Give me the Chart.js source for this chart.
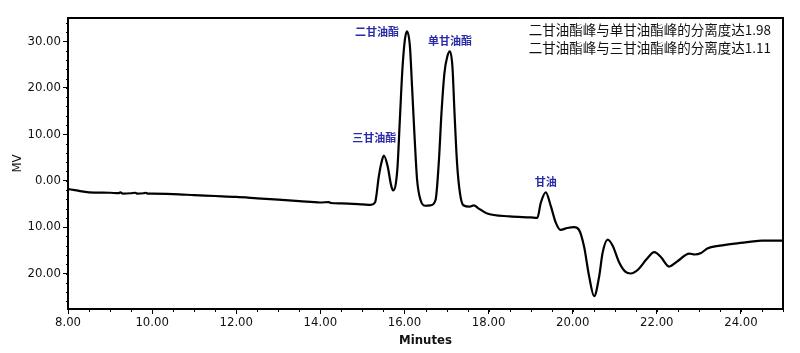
<!DOCTYPE html>
<html><head><meta charset="utf-8">
<script src="https://cdn.jsdelivr.net/npm/chart.js@4.4.0/dist/chart.umd.min.js"></script>
<style>html,body{margin:0;padding:0;background:#fff}#wrap{width:800px;height:353px}</style>
</head><body><div id="wrap"><canvas id="c"></canvas></div>
<script>
const times = [8.00,8.2,8.5,9.0,9.2,9.25,9.3,9.5,9.6,9.65,9.8,9.85,9.9,10.0,10.5,11.0,11.5,12.0,12.5,13.0,13.5,14.0,14.2,14.25,14.5,15.0,15.2,15.3,15.39,15.45,15.51,15.60,15.68,15.73,15.83,15.89,15.95,16.01,16.06,16.13,16.18,16.24,16.30,16.38,16.50,16.62,16.74,16.82,16.88,16.95,17.02,17.08,17.14,17.19,17.25,17.32,17.40,17.55,17.65,17.75,17.95,18.5,19.0,19.16,19.24,19.36,19.48,19.60,19.71,19.87,20.03,20.15,20.27,20.39,20.51,20.63,20.71,20.83,20.95,21.1,21.25,21.38,21.55,21.75,21.94,22.1,22.29,22.5,22.77,22.9,23.05,23.2,23.5,23.8,24.2,24.5,25.0];
const signal = [-1.8,-2.1,-2.5,-2.6,-2.7,-2.5,-2.8,-2.7,-2.6,-2.8,-2.7,-2.6,-2.8,-2.8,-2.9,-3.1,-3.3,-3.5,-3.8,-4.1,-4.4,-4.7,-4.6,-4.8,-4.9,-5.1,-5.2,-4.7,0.9,3.8,5.4,3.1,-0.9,-2.1,2.4,13.1,23.9,30.4,32.2,28.9,20.3,9.5,0.2,-4.1,-5.4,-5.3,-4.1,4.5,14.6,23.2,26.8,27.9,24.6,14.6,3.8,-2.7,-5.3,-5.6,-5.3,-5.9,-7.0,-7.7,-7.9,-8.0,-4.8,-2.5,-5.5,-9.1,-10.6,-10.2,-10.0,-10.6,-14.2,-20.6,-24.9,-20.6,-15.6,-12.7,-14.0,-17.5,-19.6,-20.0,-19.2,-17.0,-15.4,-16.5,-18.5,-17.3,-15.7,-15.9,-15.6,-14.6,-14.0,-13.6,-13.2,-12.9,-12.9];
const xTickValues = [8,10,12,14,16,18,20,22,24];
const yTickValues = [-20,-10,0,10,20,30];
const peakNames = ['三甘油酯','二甘油酯','单甘油酯','甘油'];
const peakTimes = [15.28,16.06,17.08,19.36];
const peakLabelValues = [9.2,32.0,30.2,-0.3];
const noteLines = ['二甘油酯峰与单甘油酯峰的分离度达1.98','二甘油酯峰与三甘油酯峰的分离度达1.11'];

const tickFont = {family:"'DejaVu Sans Condensed','Liberation Sans Narrow',sans-serif", size:13};

const deco = {
  id:'deco',
  afterDraw(chart){
    const {ctx, chartArea:a, scales:{x,y}} = chart;
    ctx.save();
    ctx.strokeStyle='#000'; ctx.lineWidth=1;
    for(let t=8;t<=25.001;t+=0.5){
      const px=Math.round(x.getPixelForValue(t))+0.5;
      ctx.beginPath();ctx.moveTo(px,a.bottom);ctx.lineTo(px,a.bottom+3);ctx.stroke();
    }
    for(let v=-26;v<=34;v+=2){
      const py=Math.round(y.getPixelForValue(v))+0.5;
      ctx.beginPath();ctx.moveTo(a.left,py);ctx.lineTo(a.left-2,py);ctx.stroke();
    }
    ctx.lineWidth=2; ctx.strokeStyle='#000';
    ctx.strokeRect(a.left,a.top,a.right-a.left,a.bottom-a.top);
    ctx.fillStyle='#2a2aa6';
    ctx.font="bold 11px 'Noto Sans CJK SC'";
    ctx.textAlign='center'; ctx.textBaseline='middle';
    for(let i=0;i<peakNames.length;i++){
      ctx.fillText(peakNames[i], x.getPixelForValue(peakTimes[i]) - (i===1?30:0), y.getPixelForValue(peakLabelValues[i]));
    }
    ctx.fillStyle='#111';
    ctx.font="13.5px 'Noto Sans CJK SC'";
    ctx.textAlign='right';
    noteLines.forEach((s,i)=>ctx.fillText(s, a.right-12, a.top+12+i*18));
    ctx.restore();
  }
};

new Chart(document.getElementById('c'),{
  type:'line',
  data:{datasets:[{data:times.map((t,i)=>({x:t,y:signal[i]})),borderColor:'#000',borderWidth:2.2,pointRadius:0,cubicInterpolationMode:'monotone',fill:false}]},
  options:{
    responsive:true, maintainAspectRatio:false, animation:false,
    layout:{padding:{top:18,right:17,left:0,bottom:0}},
    plugins:{legend:{display:false},tooltip:{enabled:false}},
    scales:{
      x:{type:'linear',min:8,max:25,
        afterBuildTicks(s){s.ticks=xTickValues.map(v=>({value:v}));},
        afterFit(s){s.height=44;},
        grid:{drawOnChartArea:false,drawTicks:true,tickLength:5,color:'#000'},
        border:{display:false},
        ticks:{color:'#111',font:tickFont,padding:1,maxRotation:0,callback:v=>Number(v).toFixed(2)},
        title:{display:true,text:'Minutes',color:'#111',font:{family:tickFont.family,size:13,weight:'bold'},padding:{top:0,bottom:5}}
      },
      y:{type:'linear',min:-27.65,max:35.06,
        afterBuildTicks(s){s.ticks=yTickValues.map(v=>({value:v}));},
        afterFit(s){s.width=68;},
        grid:{drawOnChartArea:false,drawTicks:true,tickLength:5,color:'#000'},
        border:{display:false},
        ticks:{color:'#111',font:tickFont,padding:2,callback:v=>Math.abs(v).toFixed(2)},
        title:{display:true,text:'MV',color:'#111',font:{family:tickFont.family,size:13},padding:{top:10,bottom:0}}
      }
    }
  },
  plugins:[deco]
});
</script></body></html>
